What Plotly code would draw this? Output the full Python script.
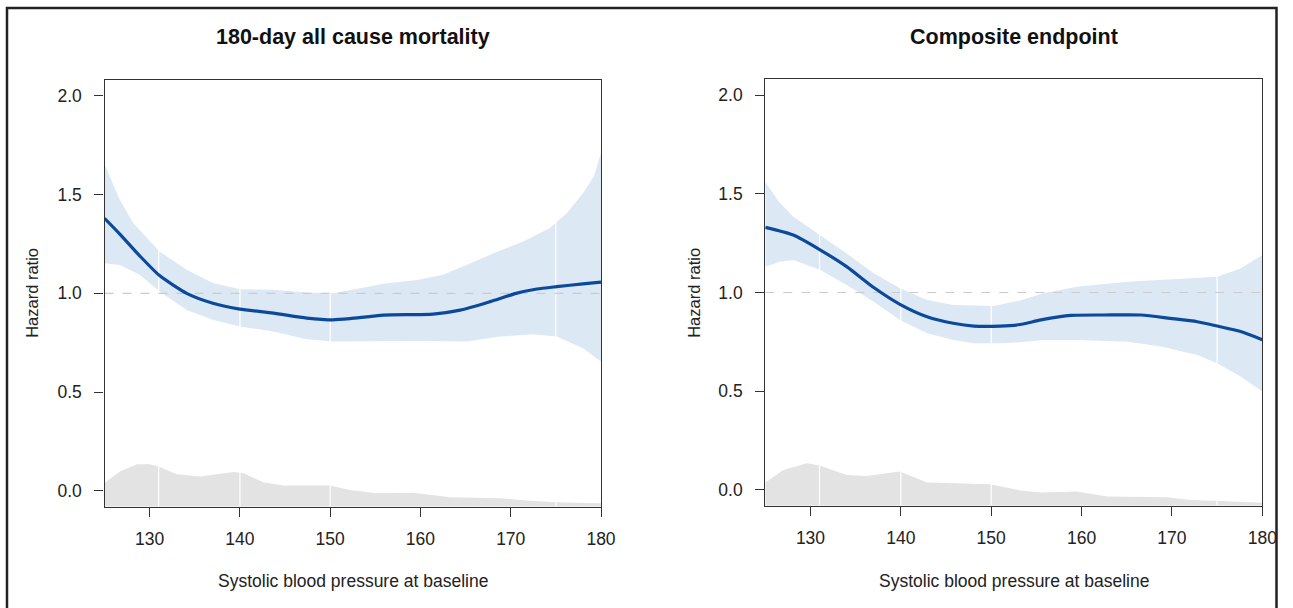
import plotly.graph_objects as go

# ---------------- data ----------------
# Panel 1: 180-day all cause mortality
x_mort = [125, 126.7, 128.9, 131.1, 134.1, 137, 140, 143.7, 147.4, 150.3, 152.2, 155.9,
          161.4, 164.4, 167.7, 170.6, 172.9, 175.1, 178, 180]
hr_mort = [1.38, 1.30, 1.19, 1.09, 1.00, 0.95, 0.92, 0.90, 0.875, 0.866, 0.872, 0.89,
           0.895, 0.915, 0.958, 1.0, 1.022, 1.034, 1.048, 1.057]
x_mort_up = [125, 126.7, 128.2, 131.1, 134.1, 137, 140, 143.7, 147.4, 150.3, 153.3, 155.9,
             159.6, 162.5, 165.1, 168.1, 171.4, 174.3, 176.2, 178, 179.2, 180]
up_mort = [1.655, 1.473, 1.355, 1.212, 1.119, 1.052, 1.021, 1.018, 1.004, 1.0, 1.026, 1.048,
           1.068, 1.094, 1.144, 1.203, 1.262, 1.330, 1.406, 1.507, 1.59, 1.71]
x_mort_lo = [125, 126.7, 128.9, 131.1, 134.1, 137, 140, 143.7, 147.4, 150.3, 153.3, 159.6,
             165.1, 168.8, 172.5, 175.1, 178, 180]
lo_mort = [1.153, 1.144, 1.094, 1.009, 0.916, 0.866, 0.832, 0.807, 0.768, 0.756, 0.756, 0.759,
           0.756, 0.781, 0.793, 0.781, 0.722, 0.655]
x_mort_dens = [125, 125.2, 126.7, 128.6, 130, 131, 133, 135.6, 137.4, 139.3, 140.4, 142.6, 144.8,
               150, 152.2, 155.1, 159.2, 161.4, 163.3, 168.8, 171.8, 175.1, 180]
dens_mort = [0.04, 0.047, 0.098, 0.135, 0.135, 0.123, 0.084, 0.073, 0.084, 0.096, 0.089, 0.044,
             0.027, 0.027, 0.005, -0.012, -0.009, -0.020, -0.032, -0.037, -0.049, -0.057, -0.063]

# Panel 2: Composite endpoint
x_comp = [125, 128.1, 131.1, 134, 137, 139.9, 142.9, 145.8, 148.1, 151, 153.2, 155.5, 158.8,
          162.5, 166.6, 169.8, 172.8, 175, 177.6, 180]
hr_comp = [1.33, 1.291, 1.215, 1.131, 1.025, 0.94, 0.877, 0.844, 0.830, 0.830, 0.838, 0.861,
           0.884, 0.886, 0.886, 0.869, 0.852, 0.830, 0.802, 0.761]
x_comp_up = [125, 126.5, 128.1, 131.1, 134, 137, 139.9, 142.9, 145.8, 150.3, 153.2, 155.8,
             159.5, 165.1, 170.6, 175, 177.6, 180]
up_comp = [1.56, 1.46, 1.384, 1.291, 1.198, 1.097, 1.021, 0.962, 0.937, 0.932, 0.96, 0.996,
           1.029, 1.055, 1.067, 1.080, 1.122, 1.19]
x_comp_lo = [125, 126.6, 128.1, 131.1, 134, 137, 139.9, 142.9, 145.8, 148.1, 151, 153.2, 155.8,
             159.5, 165.1, 168.8, 172.8, 175, 177.6, 180]
lo_comp = [1.131, 1.156, 1.165, 1.114, 1.038, 0.953, 0.861, 0.793, 0.759, 0.743, 0.743, 0.748,
           0.759, 0.759, 0.751, 0.726, 0.684, 0.642, 0.574, 0.498]
x_comp_dens = [125, 125.3, 127, 129.6, 131.1, 134, 136.2, 139.9, 142.9, 149.9, 153.2, 155.5,
               159.5, 162.8, 169.5, 172.1, 175.4, 180]
dens_comp = [0.04, 0.047, 0.101, 0.135, 0.122, 0.076, 0.071, 0.093, 0.037, 0.029, -0.003, -0.013,
             -0.008, -0.034, -0.037, -0.051, -0.056, -0.065]

ref_x = [131, 140, 150, 175]
x_ticks = [130, 140, 150, 160, 170, 180]
y_ticks = [0.0, 0.5, 1.0, 1.5, 2.0]
y_tick_text = ["0.0", "0.5", "1.0", "1.5", "2.0"]
titles = ["180-day all cause mortality", "Composite endpoint"]
x_title = "Systolic blood pressure at baseline"
y_title = "Hazard ratio"

# ---------------- styling ----------------
W = 1278          # width the page actually lays the figure out at
H = 608
LINE_BLUE = "#0b4a9b"
BAND_BLUE = "#dde8f5"
DENS_GRAY = "#e3e3e3"
FONT = "Liberation Sans, Arial, sans-serif"
Y_MIN, Y_MAX = -0.08, 2.08
X_MIN, X_MAX = 125, 180

panels = [
    dict(x=x_mort, hr=hr_mort, xu=x_mort_up, up=up_mort, xl=x_mort_lo, lo=lo_mort,
         xd=x_mort_dens, d=dens_mort, px=(104.5, 601), py=(80, 506.7)),
    dict(x=x_comp, hr=hr_comp, xu=x_comp_up, up=up_comp, xl=x_comp_lo, lo=lo_comp,
         xd=x_comp_dens, d=dens_comp, px=(765.3, 1262.3), py=(79.3, 505.7)),
]

fig = go.Figure()
annotations = []
shapes = []

for i, p in enumerate(panels):
    n = "" if i == 0 else str(i + 1)
    xa, ya = "x" + n, "y" + n
    fig.add_trace(go.Scatter(x=p["xd"] + p["xd"][::-1],
                             y=p["d"] + [Y_MIN] * len(p["xd"]),
                             fill="toself", fillcolor=DENS_GRAY, line=dict(width=0),
                             mode="lines", hoverinfo="skip", showlegend=False,
                             xaxis=xa, yaxis=ya))
    fig.add_trace(go.Scatter(x=p["xu"] + p["xl"][::-1],
                             y=p["up"] + p["lo"][::-1],
                             fill="toself", fillcolor=BAND_BLUE, line=dict(width=0),
                             mode="lines", hoverinfo="skip", showlegend=False,
                             xaxis=xa, yaxis=ya))
    for rx in ref_x:
        fig.add_trace(go.Scatter(x=[rx, rx], y=[Y_MIN, Y_MAX], mode="lines",
                                 line=dict(color="white", width=1.2),
                                 hoverinfo="skip", showlegend=False, xaxis=xa, yaxis=ya))
    fig.add_trace(go.Scatter(x=[X_MIN, X_MAX], y=[1.0, 1.0], mode="lines",
                             line=dict(color="#cccccc", width=1.2, dash="dash"),
                             hoverinfo="skip", showlegend=False, xaxis=xa, yaxis=ya))
    fig.add_trace(go.Scatter(x=p["x"], y=p["hr"], mode="lines",
                             line=dict(color=LINE_BLUE, width=3.2, shape="spline", smoothing=0.6),
                             showlegend=False, xaxis=xa, yaxis=ya))

    x0, x1 = p["px"]
    y0, y1 = p["py"]
    dom_x = [x0 / W, x1 / W]
    dom_y = [(H - y1) / H, (H - y0) / H]
    axis_common = dict(showline=True, mirror=True, linecolor="#333333", linewidth=1.3,
                       ticks="outside", ticklen=9, tickwidth=1.3, tickcolor="#333333",
                       showgrid=False, zeroline=False,
                       tickfont=dict(family=FONT, size=17.5, color="#222222"))
    fig.update_layout(**{
        ("xaxis" + n): dict(domain=dom_x, range=[X_MIN, X_MAX], tickvals=x_ticks,
                            anchor=ya, ticklabelstandoff=7, **axis_common),
        ("yaxis" + n): dict(domain=dom_y, range=[Y_MIN, Y_MAX], tickvals=y_ticks,
                            ticktext=y_tick_text, anchor=xa, ticklabelstandoff=9,
                            **axis_common),
    })
    cx = (x0 + x1) / 2
    annotations.append(dict(text="<b>" + titles[i] + "</b>", x=cx / W, y=1 - 37 / H,
                            xref="paper", yref="paper", showarrow=False,
                            xanchor="center", yanchor="middle",
                            font=dict(family=FONT, size=21.5, color="#111111")))
    annotations.append(dict(text=x_title, x=cx / W, y=1 - 581 / H,
                            xref="paper", yref="paper", showarrow=False,
                            xanchor="center", yanchor="middle",
                            font=dict(family=FONT, size=17.5, color="#222222")))
    annotations.append(dict(text=y_title, x=(x0 - 72) / W, y=1 - ((y0 + y1) / 2) / H,
                            xref="paper", yref="paper", showarrow=False, textangle=-90,
                            xanchor="center", yanchor="middle",
                            font=dict(family=FONT, size=16.5, color="#222222")))

frame_right = min(1289, W - 1.5)
shapes.append(dict(type="rect", xref="paper", yref="paper",
                   x0=7 / W, x1=frame_right / W, y0=-0.1, y1=1 - 8 / H,
                   line=dict(color="#222222", width=2.5), fillcolor="rgba(0,0,0,0)"))

fig.update_layout(height=H, autosize=True,
                  margin=dict(l=0, r=0, t=0, b=0),
                  paper_bgcolor="white", plot_bgcolor="white",
                  annotations=annotations, shapes=shapes, showlegend=False)

fig.write_html("out.html")
